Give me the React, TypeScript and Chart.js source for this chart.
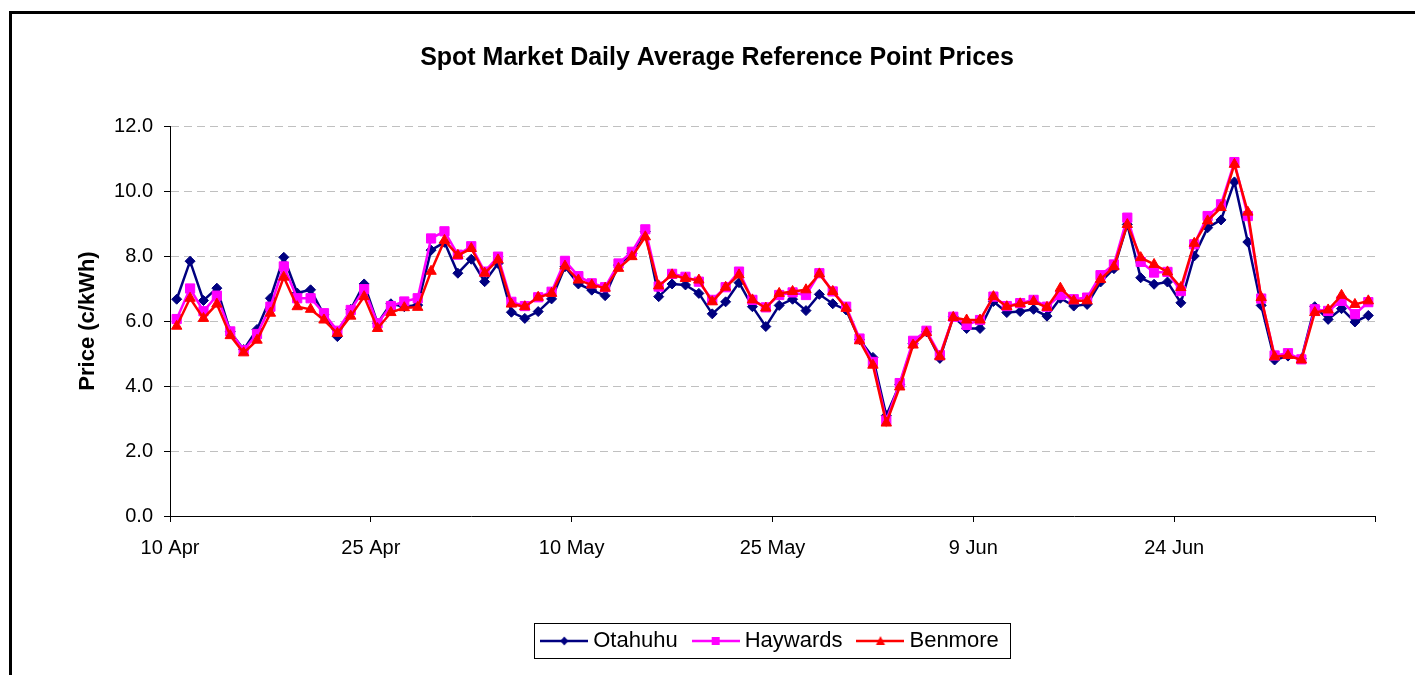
import { useEffect, useRef } from 'react';
import { Chart, registerables } from 'chart.js';

Chart.register(...registerables);

// Days from 10 Apr (day 0) to 8 Jul (day 89)
const tickDays = [0, 15, 30, 45, 60, 75, 90];
const tickLabels = ['10 Apr', '25 Apr', '10 May', '25 May', '9 Jun', '24 Jun', ''];
const yTickValues = [0, 2, 4, 6, 8, 10, 12];

const seriesNames = ['Otahuhu', 'Haywards', 'Benmore'];
const seriesColors = ['#000080', '#FF00FF', '#FF0000'];

const otahuhu = [
  6.67, 7.84, 6.63, 7.01, 5.67, 5.12, 5.74, 6.70, 7.96, 6.86,
  6.96, 6.19, 5.52, 6.36, 7.14, 5.93, 6.53, 6.44, 6.49, 8.18,
  8.42, 7.47, 7.90, 7.21, 7.77, 6.27, 6.08, 6.29, 6.68, 7.67,
  7.14, 6.95, 6.78, 7.72, 8.08, 8.75, 6.75, 7.14, 7.11, 6.85,
  6.22, 6.59, 7.18, 6.44, 5.83, 6.48, 6.67, 6.32, 6.82, 6.53,
  6.34, 5.43, 4.88, 3.09, 4.05, 5.31, 5.67, 4.85, 6.13, 5.77,
  5.77, 6.60, 6.26, 6.29, 6.36, 6.15, 6.70, 6.46, 6.51, 7.20,
  7.61, 8.97, 7.33, 7.13, 7.20, 6.56, 8.00, 8.87, 9.11, 10.28,
  8.43, 6.48, 4.80, 4.92, 4.84, 6.44, 6.05, 6.38, 5.97, 6.17,
];

const haywards = [
  6.06, 7.00, 6.30, 6.78, 5.68, 5.10, 5.60, 6.44, 7.68, 6.70,
  6.70, 6.24, 5.70, 6.34, 6.98, 5.93, 6.46, 6.60, 6.70, 8.54,
  8.76, 8.04, 8.30, 7.52, 7.98, 6.59, 6.46, 6.73, 6.90, 7.85,
  7.38, 7.16, 7.04, 7.77, 8.13, 8.82, 7.06, 7.45, 7.36, 7.21,
  6.65, 7.04, 7.52, 6.65, 6.42, 6.80, 6.88, 6.80, 7.47, 6.91,
  6.44, 5.46, 4.74, 2.94, 4.09, 5.39, 5.70, 4.95, 6.13, 5.88,
  6.03, 6.75, 6.46, 6.55, 6.65, 6.44, 6.80, 6.67, 6.72, 7.41,
  7.74, 9.18, 7.82, 7.49, 7.51, 6.92, 8.36, 9.23, 9.59, 10.89,
  9.23, 6.69, 4.94, 5.01, 4.82, 6.36, 6.31, 6.62, 6.21, 6.58,
];

const benmore = [
  5.84, 6.70, 6.08, 6.52, 5.55, 5.02, 5.41, 6.24, 7.35, 6.44,
  6.36, 6.03, 5.62, 6.15, 6.75, 5.77, 6.26, 6.41, 6.42, 7.53,
  8.48, 8.02, 8.23, 7.47, 7.88, 6.52, 6.44, 6.73, 6.85, 7.69,
  7.26, 7.11, 7.01, 7.62, 7.98, 8.59, 7.08, 7.42, 7.31, 7.26,
  6.59, 7.04, 7.42, 6.65, 6.40, 6.85, 6.91, 6.96, 7.45, 6.91,
  6.39, 5.39, 4.64, 2.86, 3.97, 5.26, 5.64, 4.90, 6.11, 6.03,
  6.03, 6.75, 6.44, 6.53, 6.60, 6.42, 7.01, 6.62, 6.62, 7.28,
  7.67, 8.97, 7.95, 7.74, 7.51, 7.03, 8.39, 9.08, 9.49, 10.82,
  9.35, 6.72, 4.90, 4.94, 4.80, 6.26, 6.34, 6.79, 6.51, 6.62,
];

const FONT = '"Liberation Sans", Arial, Helvetica, sans-serif';

function makeIcon(color: string, shape: string): HTMLCanvasElement {
  const c = document.createElement('canvas');
  c.width = 48;
  c.height = 16;
  const ctx = c.getContext('2d') as CanvasRenderingContext2D;
  ctx.strokeStyle = color;
  ctx.fillStyle = color;
  ctx.lineWidth = 2.5;
  ctx.beginPath();
  ctx.moveTo(0, 8);
  ctx.lineTo(48, 8);
  ctx.stroke();
  ctx.beginPath();
  if (shape === 'diamond') {
    ctx.moveTo(24, 3.5);
    ctx.lineTo(28, 8);
    ctx.lineTo(24, 12.5);
    ctx.lineTo(20, 8);
  } else if (shape === 'square') {
    ctx.rect(20, 4, 8, 8);
  } else {
    ctx.moveTo(24, 3);
    ctx.lineTo(28.5, 12);
    ctx.lineTo(19.5, 12);
  }
  ctx.closePath();
  ctx.fill();
  return c;
}

const frame = {
  id: 'frame',
  beforeDraw(chart: any) {
    const ctx = chart.ctx;
    ctx.save();
    ctx.fillStyle = '#ffffff';
    ctx.fillRect(0, 0, chart.width, chart.height);
    ctx.fillStyle = '#000000';
    ctx.fillRect(9, 11, 3, chart.height - 11);
    ctx.fillRect(9, 11, chart.width - 9, 3);
    ctx.restore();
  },
};

const legendBorder = {
  id: 'legendBorder',
  afterDraw(chart: any) {
    const hb = chart.legend && chart.legend.legendHitBoxes;
    if (!hb || !hb.length) return;
    const first = hb[0];
    const last = hb[hb.length - 1];
    const left = first.left - 12;
    const right = last.left + last.width + 12;
    const cy = first.top + first.height / 2;
    const ctx = chart.ctx;
    ctx.save();
    ctx.strokeStyle = '#000000';
    ctx.lineWidth = 1;
    ctx.strokeRect(Math.round(left) + 0.5, Math.round(cy - 18) + 0.5, Math.round(right - left), 35);
    ctx.restore();
  },
};

export default function App() {
  const canvasRef = useRef<HTMLCanvasElement | null>(null);

  useEffect(() => {
    const canvas = canvasRef.current;
    if (!canvas) return;
    const shapes = ['diamond', 'square', 'triangle'];
    const icons = seriesColors.map((c, i) => makeIcon(c, shapes[i]));
    const values = [otahuhu, haywards, benmore];
    const pointStyles = ['rectRot', 'rect', 'triangle'];
    const radii = [5, 6.5, 6];
    const orders = [3, 2, 1];

    const datasets = values.map((vals, s) => ({
      label: seriesNames[s],
      data: vals.map((v, i) => ({ x: i + 0.5, y: v })),
      borderColor: seriesColors[s],
      backgroundColor: seriesColors[s],
      borderWidth: 2.5,
      pointStyle: pointStyles[s],
      pointRadius: radii[s],
      pointBackgroundColor: seriesColors[s],
      pointBorderColor: seriesColors[s],
      pointBorderWidth: 1,
      tension: 0,
      order: orders[s],
    }));

    const chart = new Chart(canvas, {
      type: 'line',
      data: { datasets },
      plugins: [frame, legendBorder],
      options: {
        responsive: false,
        animation: false,
        devicePixelRatio: 1,
        layout: { padding: { left: 59, right: 40, top: 0, bottom: 13 } },
        plugins: {
          tooltip: { enabled: false },
          title: {
            display: true,
            text: 'Spot Market Daily Average Reference Point Prices',
            color: '#000',
            font: { family: FONT, size: 25, weight: 'bold' },
            padding: { top: 43, bottom: 53 },
          },
          legend: {
            display: true,
            position: 'bottom',
            fullSize: false,
            labels: {
              usePointStyle: true,
              pointStyleWidth: 36,
              boxHeight: 22,
              padding: 20,
              color: '#000',
              font: { family: FONT, size: 22 },
              sort: (a: any, b: any) => a.datasetIndex - b.datasetIndex,
              generateLabels: (ch: any) =>
                ch.data.datasets.map((ds: any, i: number) => ({
                  text: ds.label,
                  datasetIndex: i,
                  pointStyle: icons[i],
                  fillStyle: ds.borderColor,
                  strokeStyle: ds.borderColor,
                  lineWidth: 0,
                  hidden: false,
                  fontColor: '#000',
                })),
            },
          },
        },
        scales: {
          x: {
            type: 'linear',
            min: 0,
            max: 90,
            afterBuildTicks: (scale: any) => {
              scale.ticks = tickDays.map((v) => ({ value: v }));
            },
            afterFit: (scale: any) => {
              scale.height = 94;
            },
            ticks: {
              autoSkip: false,
              maxRotation: 0,
              padding: 14,
              color: '#000',
              font: { family: FONT, size: 20 },
              callback: (v: any) => {
                const idx = tickDays.indexOf(Number(v));
                return idx >= 0 ? tickLabels[idx] : '';
              },
            },
            grid: {
              drawOnChartArea: false,
              drawTicks: true,
              tickLength: 6,
              color: '#000',
              tickColor: '#000',
            },
            border: { color: '#000', width: 1 },
          },
          y: {
            min: 0,
            max: 12,
            afterBuildTicks: (scale: any) => {
              scale.ticks = yTickValues.map((v) => ({ value: v }));
            },
            afterFit: (scale: any) => {
              scale.width = 111;
            },
            ticks: {
              padding: 11,
              color: '#000',
              font: { family: FONT, size: 20 },
              callback: (v: any) => Number(v).toFixed(1),
            },
            title: {
              display: true,
              text: 'Price (c/kWh)',
              color: '#000',
              font: { family: FONT, size: 22, weight: 'bold' },
              padding: { top: 16, bottom: 0 },
            },
            grid: {
              drawTicks: true,
              tickLength: 6,
              color: (ctx: any) => (ctx.tick && ctx.tick.value === 0 ? 'rgba(0,0,0,0)' : '#c0c0c0'),
              tickColor: '#000',
              lineWidth: 1,
            },
            border: { color: '#000', width: 1, dash: [8, 5] },
          },
        },
      },
    });

    return () => {
      chart.destroy();
    };
  }, []);

  return (
    <div style={{ position: 'absolute', left: 0, top: 0, width: 1415, height: 675, overflow: 'hidden', background: '#fff' }}>
      <canvas ref={canvasRef} width={1415} height={675} style={{ display: 'block' }} />
    </div>
  );
}
